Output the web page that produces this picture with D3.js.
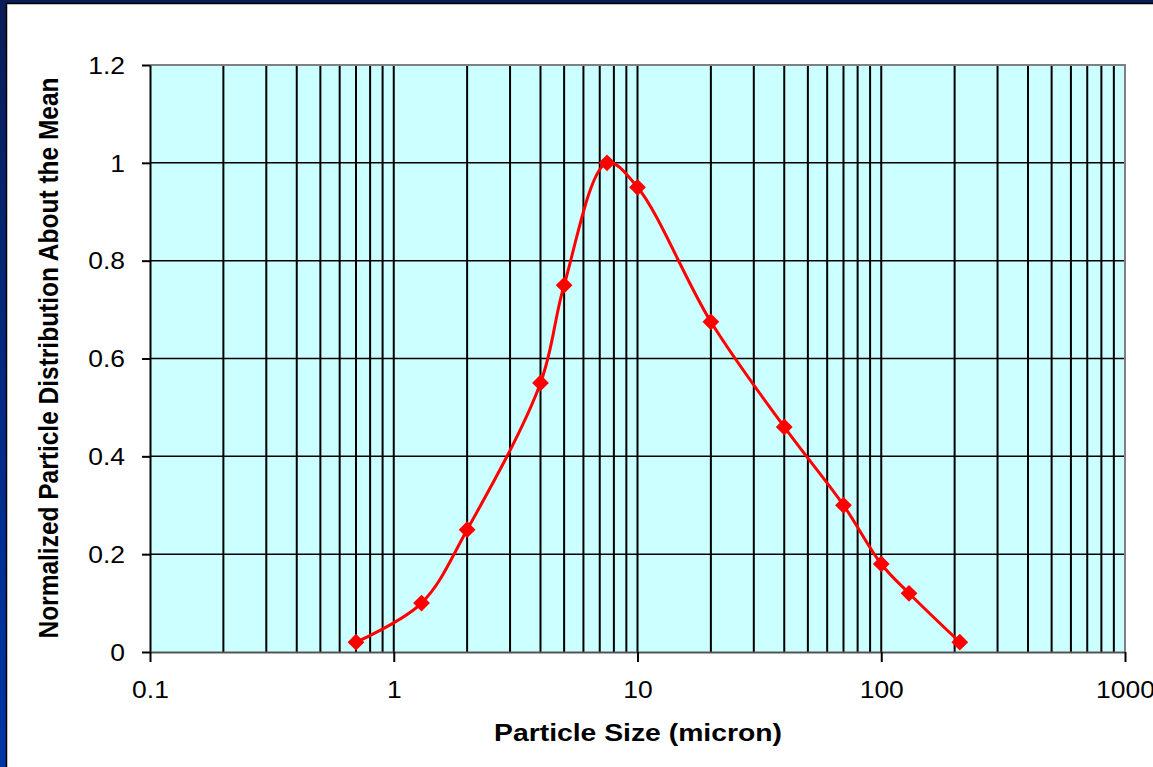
<!DOCTYPE html>
<html>
<head>
<meta charset="utf-8">
<script src="https://cdn.jsdelivr.net/npm/d3@7"></script>
<style>
  html, body { margin: 0; padding: 0; background: #ffffff; }
  svg { display: block; }
  text { font-family: "Liberation Sans", Arial, sans-serif; fill: #000; }
</style>
</head>
<body>
<svg id="chart" width="1153" height="767"></svg>
<script>
// ---- Data ----
const particleSize = [0.7, 1.3, 2, 4, 5, 7.5, 10, 20, 40, 70, 100, 130, 210];
const distribution = [0.02, 0.1, 0.25, 0.55, 0.75, 1.0, 0.95, 0.675, 0.46, 0.3, 0.18, 0.12, 0.02];
const xTickValues = [0.1, 1, 10, 100, 1000];
const xTickLabels = ["0.1", "1", "10", "100", "1000"];
const yTickValues = [0, 0.2, 0.4, 0.6, 0.8, 1, 1.2];
const yTickLabels = ["0", "0.2", "0.4", "0.6", "0.8", "1", "1.2"];
const xTitle = "Particle Size (micron)";
const yTitle = "Normalized Particle Distribution About the Mean";

// ---- Layout ----
const W = 1153, H = 767;
const plot = { left: 150, right: 1125, top: 65, bottom: 652 };
const sx = 1.15; // horizontal stretch of tick text

const svg = d3.select("#chart");

// Frame (left and top bars)
const defs = svg.append("defs");
const grad = defs.append("linearGradient").attr("id", "frameGrad")
  .attr("x1", 0).attr("y1", 0).attr("x2", 0).attr("y2", 1);
grad.append("stop").attr("offset", "0%").attr("stop-color", "#0b1d57");
grad.append("stop").attr("offset", "60%").attr("stop-color", "#022c8c");
grad.append("stop").attr("offset", "100%").attr("stop-color", "#0035a6");
svg.append("rect").attr("x", 0).attr("y", 0).attr("width", 6).attr("height", H).attr("fill", "url(#frameGrad)");
svg.append("rect").attr("x", 0).attr("y", 0).attr("width", W).attr("height", 3).attr("fill", "#0b1d57");
svg.append("line").attr("x1", 6.5).attr("x2", 6.5).attr("y1", 3).attr("y2", H).attr("stroke", "#000").attr("stroke-width", 1.5);
svg.append("line").attr("x1", 6).attr("x2", W).attr("y1", 3.5).attr("y2", 3.5).attr("stroke", "#000").attr("stroke-width", 1.5);

// Scales
const x = d3.scaleLog().domain([0.1, 1000]).range([plot.left, plot.right]);
const y = d3.scaleLinear().domain([0, 1.2]).range([plot.bottom, plot.top]);

// Plot background
svg.append("rect")
  .attr("x", plot.left).attr("y", plot.top)
  .attr("width", plot.right - plot.left).attr("height", plot.bottom - plot.top)
  .attr("fill", "#ccffff");

// Vertical grid lines at every minor log tick
const minorX = [];
for (let e = -1; e <= 2; e++) {
  for (let m = 1; m <= 9; m++) minorX.push(m * Math.pow(10, e));
}
svg.append("g").selectAll("line").data(minorX.filter(v => v > 0.1)).join("line")
  .attr("x1", d => x(d)).attr("x2", d => x(d))
  .attr("y1", plot.top).attr("y2", plot.bottom)
  .attr("stroke", "#000").attr("stroke-width", 2);

// Horizontal grid lines
svg.append("g").selectAll("line").data(yTickValues.filter(v => v > 0 && v < 1.2)).join("line")
  .attr("x1", plot.left).attr("x2", plot.right)
  .attr("y1", d => y(d)).attr("y2", d => y(d))
  .attr("stroke", "#000").attr("stroke-width", 1.5);

// Plot border top / right (gray)
svg.append("line").attr("x1", plot.left).attr("x2", plot.right + 1).attr("y1", plot.top).attr("y2", plot.top)
  .attr("stroke", "#808080").attr("stroke-width", 2);
svg.append("line").attr("x1", plot.right).attr("x2", plot.right).attr("y1", plot.top).attr("y2", plot.bottom)
  .attr("stroke", "#808080").attr("stroke-width", 2);

// Axes
const yAxis = d3.axisLeft(y).tickValues(yTickValues)
  .tickFormat((d, i) => yTickLabels[i]).tickSize(8).tickSizeOuter(0);
const gy = svg.append("g").attr("transform", `translate(${plot.left},0)`).call(yAxis);
gy.select(".domain").attr("stroke", "#000").attr("stroke-width", 2);
gy.selectAll(".tick line").attr("stroke", "#000").attr("stroke-width", 2);
gy.selectAll(".tick text")
  .attr("x", 0).attr("dy", "0.36em")
  .attr("transform", `translate(-25,0) scale(${sx},1)`)
  .attr("text-anchor", "end")
  .style("font-size", "23px")
  .style("font-family", "'Liberation Sans', Arial, sans-serif");

const xAxis = d3.axisBottom(x).tickValues(xTickValues)
  .tickFormat((d, i) => xTickLabels[i]).tickSize(10).tickSizeOuter(0);
const gx = svg.append("g").attr("transform", `translate(0,${plot.bottom})`).call(xAxis);
gx.select(".domain").attr("stroke", "#555").attr("stroke-width", 2);
gx.selectAll(".tick line").attr("stroke", "#000").attr("stroke-width", 2);
gx.selectAll(".tick text")
  .attr("y", 0).attr("dy", null)
  .attr("transform", `translate(0,46) scale(${sx},1)`)
  .attr("text-anchor", "middle")
  .style("font-size", "23px")
  .style("font-family", "'Liberation Sans', Arial, sans-serif");

// Line (smoothed)
const pts = particleSize.map((v, i) => [x(v), y(distribution[i])]);
svg.append("path")
  .attr("d", d3.line().curve(d3.curveCatmullRom.alpha(0.5))(pts))
  .attr("fill", "none").attr("stroke", "#ff0000").attr("stroke-width", 3);

// Diamond markers
svg.append("g").selectAll("path").data(particleSize).join("path")
  .attr("transform", (d, i) => `translate(${x(d)},${y(distribution[i])})`)
  .attr("d", d3.symbol().type(d3.symbolDiamond2).size(180))
  .attr("fill", "#ff0000");

// Titles
svg.append("text")
  .attr("transform", `translate(638,741) scale(1.18,1)`)
  .attr("text-anchor", "middle")
  .style("font-size", "24px").style("font-weight", "bold")
  .text(xTitle);

svg.append("text")
  .attr("transform", `translate(58,358) rotate(-90) scale(1,1.12)`)
  .attr("text-anchor", "middle")
  .style("font-size", "24.5px").style("font-weight", "bold")
  .text(yTitle);
</script>
</body>
</html>
